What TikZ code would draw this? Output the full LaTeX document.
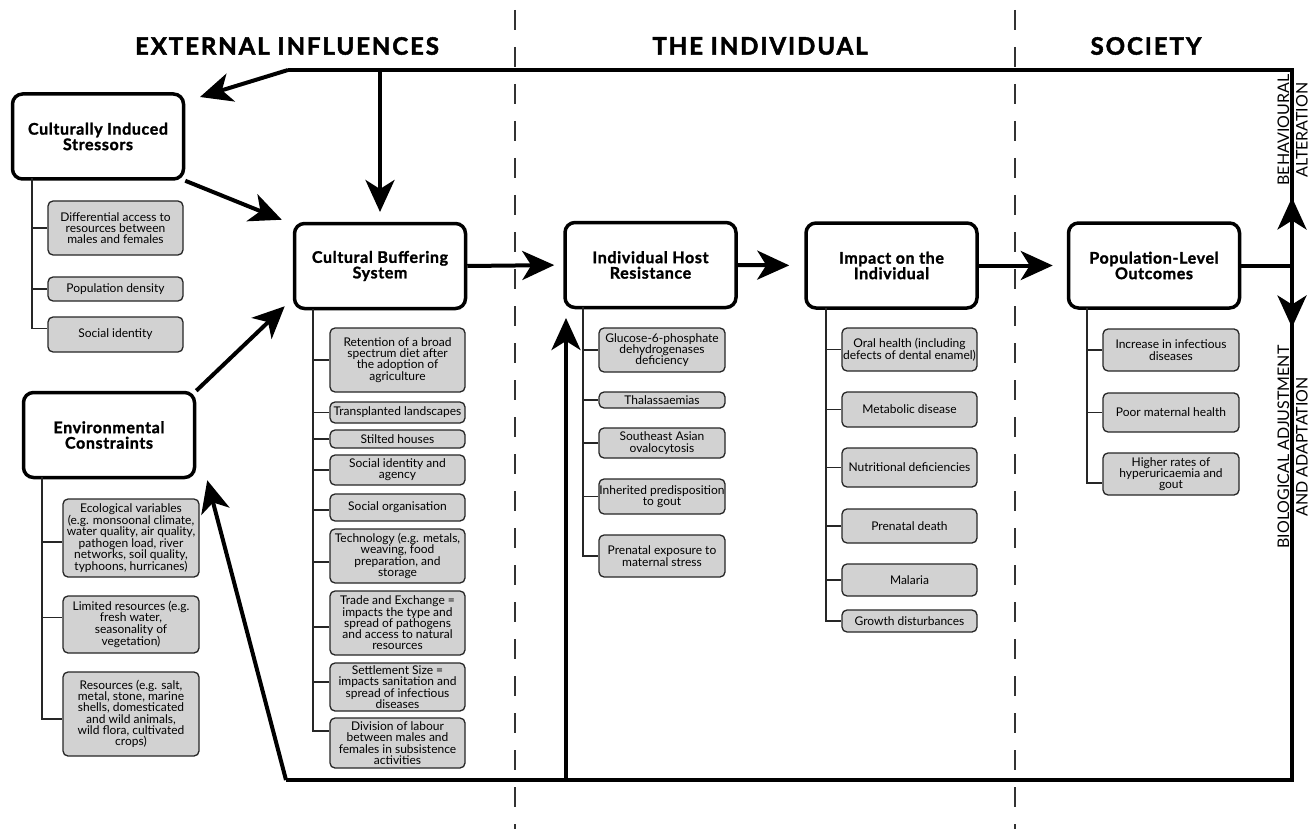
\documentclass[tikz,border=0pt]{standalone}
\usepackage{fontspec}
\setmainfont{Lato}
\newfontfamily\titlefont{Lato}[BoldFeatures={FakeBold=1.5,LetterSpace=4}]
\newfontfamily\sectfont{Lato}[BoldFeatures={FakeBold=2,LetterSpace=8}]
\usetikzlibrary{arrows.meta,calc}
\begin{document}
\begin{tikzpicture}[x=1pt,y=-1pt,
  mainbox/.style={draw, line width=3.5pt, rounded corners=10pt, fill=white,
    minimum width=171pt, minimum height=85pt, align=center, inner sep=0pt,
    font=\titlefont\fontsize{16}{15.5}\selectfont\bfseries},
  gbox/.style={draw=black!85, line width=1.3pt, rounded corners=5pt, fill=gray!35,
    align=center, inner sep=0pt, font=\fontsize{12}{11.3}\selectfont},
  conn/.style={draw=black!85, line width=1.3pt},
  big/.style={line width=4pt, -{Stealth[length=32pt,width=29pt,inset=9pt]}},
  frame/.style={line width=4pt, line join=miter},
  divider/.style={line width=1.1pt, dash pattern=on 20pt off 17pt, black!80},
  section/.style={font=\sectfont\fontsize{24}{26}\selectfont\bfseries},
  sidelabel/.style={rotate=90, align=center, inner sep=0pt, font=\fontsize{16}{18.5}\selectfont}
]
\useasboundingbox (0,0) rectangle (1311,829);

% dividers
\coordinate (v1a) at (515,10); \coordinate (v1b) at (515,829);
\coordinate (v2a) at (1015,10); \coordinate (v2b) at (1015,829);
\draw[divider] (v1a) -- (v1b);
\draw[divider] (v2a) -- (v2b);

% section titles
\node[section] (t1) at (287,46) {EXTERNAL INFLUENCES};
\node[section] (t2) at (760,46) {THE INDIVIDUAL};
\node[section] (t3) at (1146,46) {SOCIETY};

% frame coordinates
\coordinate (tl) at (288,70);
\coordinate (tr) at (1292,70);
\coordinate (br) at (1292,780);
\coordinate (bl) at (286,780);
\coordinate (tdn) at (380,70);
\coordinate (bup) at (566,780);

% main boxes
\node[mainbox] (cis) at (98,136.5) {Culturally Induced\\Stressors};
\node[mainbox] (ec) at (109,435) {Environmental\\Constraints};
\node[mainbox] (cbs) at (380,266) {Cultural Buffering\\System};
\node[mainbox] (ihr) at (650.5,265) {Individual Host\\Resistance};
\node[mainbox] (imp) at (891.5,265.5) {Impact on the\\Individual};
\node[mainbox] (pop) at (1154,265.5) {Population-Level\\Outcomes};
\coordinate (rj) at (pop.east -| br);

% frame
\draw[frame] (tl) -- (tr) -- (br) -- (bl);
\draw[frame] (pop.east) -- (rj);

% arrows
\coordinate (cisTip) at (200,97);
\coordinate (cbsTop) at (380,212);
\coordinate (ihrUp) at (566,318);
\coordinate (upTip) at ($(rj)+(0,-68)$);
\coordinate (dnTip) at ($(rj)+(0,62)$);
\draw[big] (tl) -- (cisTip);
\draw[big] (tdn) -- (cbsTop);
\draw[big] (cis.south east) -- ($(cbs.north west)+(-11,-2)$);
\draw[big] (ec.north east) -- ($(cbs.south west)+(-8,-4)$);
\draw[big] (bl) -- ($(ec.south east)+(11,1)$);
\draw[big] (bup) -- (ihrUp);
\draw[big, shorten >=9pt] (cbs.east) -- (ihr.west);
\draw[big, shorten >=15pt] (ihr.east) -- (imp.west);
\draw[big, shorten >=14pt] (imp.east) -- (pop.west);
\draw[big] (rj) -- (upTip);
\draw[big] (rj) -- (dnTip);

% side labels
\node[sidelabel] (lab1) at (1292.5,130) {BEHAVIOURAL\\ALTERATION};
\node[sidelabel] (lab2) at (1292.5,447) {BIOLOGICAL ADJUSTMENT\\AND ADAPTATION};

% ---- Culturally induced stressors items
\coordinate (cisS) at (32,178);
\node[gbox, minimum width=135pt, minimum height=54pt] (d1) at (115.5,228) {Differential access to\\resources between\\males and females};
\node[gbox, minimum width=135pt, minimum height=24pt] (d2) at (115.5,289) {Population density};
\node[gbox, minimum width=135pt, minimum height=35pt] (d3) at (115.5,334.5) {Social identity};
\draw[conn] (cisS) |- (d1.west);
\draw[conn] (cisS) |- (d2.west);
\draw[conn] (cisS) |- ([yshift=6pt]d3.west);

% ---- Environmental constraints items
\coordinate (ecS) at (42,477);
\node[gbox, minimum width=136pt, minimum height=78pt] (e1) at (131,538) {Ecological variables\\(e.g. monsoonal climate,\\water quality, air quality,\\pathogen load, river\\networks, soil quality,\\typhoons, hurricanes)};
\node[gbox, minimum width=136pt, minimum height=57pt] (e2) at (131,624.5) {Limited resources (e.g.\\fresh water,\\seasonality of\\vegetation)};
\node[gbox, minimum width=136pt, minimum height=84pt] (e3) at (131,714) {Resources (e.g. salt,\\metal, stone, marine\\shells, domesticated\\and wild animals,\\wild flora, cultivated\\crops)};
\draw[conn] (ecS) |- ([yshift=-4pt]e1.west);
\draw[conn] (ecS) |- ([yshift=7pt]e2.west);
\draw[conn] (ecS) |- ([yshift=-5pt]e3.west);

% ---- Cultural buffering items
\coordinate (cbsS) at (313,309);
\node[gbox, minimum width=135pt, minimum height=64pt] (b1) at (397.5,360) {Retention of a broad\\spectrum diet after\\the adoption of\\agriculture};
\node[gbox, minimum width=135pt, minimum height=21pt] (b2) at (397.5,412.5) {Transplanted landscapes};
\node[gbox, minimum width=135pt, minimum height=18pt] (b3) at (397.5,439) {Stilted houses};
\node[gbox, minimum width=135pt, minimum height=30pt] (b4) at (397.5,470) {Social identity and\\agency};
\node[gbox, minimum width=135pt, minimum height=27pt] (b5) at (397.5,507.5) {Social organisation};
\node[gbox, minimum width=135pt, minimum height=54pt] (b6) at (397.5,556) {Technology (e.g. metals,\\weaving, food\\preparation, and\\storage};
\node[gbox, minimum width=135pt, minimum height=64pt] (b7) at (397.5,623) {Trade and Exchange =\\impacts the type and\\spread of pathogens\\and access to natural\\resources};
\node[gbox, minimum width=135pt, minimum height=48pt] (b8) at (397.5,687) {Settlement Size =\\impacts sanitation and\\spread of infectious\\diseases};
\node[gbox, minimum width=135pt, minimum height=50pt] (b9) at (397.5,743) {Division of labour\\between males and\\females in subsistence\\activities};
\foreach \n/\s in {b1/0,b2/0,b3/0,b4/0,b5/-2.5,b6/-6,b7/-4,b8/5,b9/12}
  \draw[conn] (cbsS) |- ([yshift=\s pt]\n.west);

% ---- Individual host resistance items
\coordinate (ihrS) at (583,307);
\node[gbox, minimum width=126pt, minimum height=44pt] (h1) at (662,350) {Glucose-6-phosphate\\dehydrogenases\\deficiency};
\node[gbox, minimum width=126pt, minimum height=16pt] (h2) at (662,400) {Thalassaemias};
\node[gbox, minimum width=126pt, minimum height=30pt] (h3) at (662,443) {Southeast Asian\\ovalocytosis};
\node[gbox, minimum width=126pt, minimum height=35pt] (h4) at (662,496.5) {Inherited predisposition\\to gout};
\node[gbox, minimum width=126pt, minimum height=42pt] (h5) at (662,556) {Prenatal exposure to\\maternal stress};
\foreach \n in {h1,h2,h3,h4,h5}
  \draw[conn] (ihrS) |- (\n.west);

% ---- Impact on the individual items
\coordinate (impS) at (826,308);
\node[gbox, minimum width=135pt, minimum height=43pt] (i1) at (909.5,349.5) {Oral health (including\\defects of dental enamel)};
\node[gbox, minimum width=135pt, minimum height=35pt] (i2) at (909.5,409.5) {Metabolic disease};
\node[gbox, minimum width=135pt, minimum height=39pt] (i3) at (909.5,467.5) {Nutritional deficiencies};
\node[gbox, minimum width=135pt, minimum height=34pt] (i4) at (909.5,526) {Prenatal death};
\node[gbox, minimum width=135pt, minimum height=32pt] (i5) at (909.5,580) {Malaria};
\node[gbox, minimum width=135pt, minimum height=22pt] (i6) at (909.5,621) {Growth disturbances};
\foreach \n in {i1,i2,i3,i4,i5,i6}
  \draw[conn] (impS) |- (\n.west);

% ---- Population-level items
\coordinate (popS) at (1087,308);
\node[gbox, minimum width=136pt, minimum height=42pt] (p1) at (1171,350) {Increase in infectious\\diseases};
\node[gbox, minimum width=136pt, minimum height=39pt] (p2) at (1171,412.5) {Poor maternal health};
\node[gbox, minimum width=136pt, minimum height=42pt] (p3) at (1171,474) {Higher rates of\\hyperuricaemia and\\gout};
\draw[conn] (popS) |- (p1.west);
\draw[conn] (popS) |- (p2.west);
\draw[conn] (popS) |- ([yshift=-9pt]p3.west);
\end{tikzpicture}
\end{document}
